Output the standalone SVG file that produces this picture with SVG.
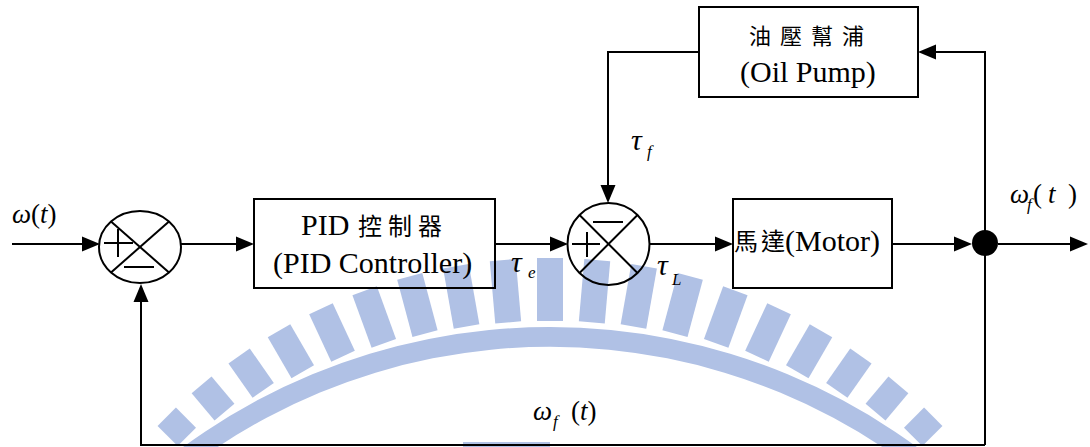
<svg xmlns="http://www.w3.org/2000/svg" width="1090" height="447" viewBox="0 0 1090 447" font-family="Liberation Serif">
<rect x="0" y="0" width="1090" height="447" fill="#fff"/>

<g id="watermark" fill="#b0c1e5">
  <polygon points="537,258 563,258 563,321 537,321"/>
  <polygon points="584.31,258.93 610.21,261.19 604.75,323.55 578.85,321.29"/>
  <polygon points="631.29,263.98 656.89,268.50 646.25,328.87 620.65,324.35"/>
  <polygon points="677.71,273.12 702.83,279.84 687.53,336.93 662.41,330.21"/>
  <polygon points="723.14,286.23 747.58,295.13 728.40,347.85 703.96,338.95"/>
  <polygon points="767.27,303.30 790.83,314.28 768.73,361.68 745.17,350.70"/>
  <polygon points="809.74,324.13 832.26,337.13 808.51,378.26 785.99,365.26"/>
  <polygon points="850.24,348.53 871.54,363.45 847.45,397.86 826.15,382.94"/>
  <polygon points="888.44,376.47 908.36,393.19 885.47,420.46 865.55,403.74"/>
  <polygon points="924.06,407.56 942.44,425.94 922.36,446.02 903.98,427.64"/>
  <polygon points="515.69,258.93 489.79,261.19 495.25,323.55 521.15,321.29"/>
  <polygon points="468.71,263.98 443.11,268.50 453.75,328.87 479.35,324.35"/>
  <polygon points="422.29,273.12 397.17,279.84 412.47,336.93 437.59,330.21"/>
  <polygon points="376.86,286.23 352.42,295.13 371.60,347.85 396.04,338.95"/>
  <polygon points="332.73,303.30 309.17,314.28 331.27,361.68 354.83,350.70"/>
  <polygon points="290.26,324.13 267.74,337.13 291.49,378.26 314.01,365.26"/>
  <polygon points="249.76,348.53 228.46,363.45 252.55,397.86 273.85,382.94"/>
  <polygon points="211.56,376.47 191.64,393.19 214.53,420.46 234.45,403.74"/>
  <polygon points="175.94,407.56 157.56,425.94 177.64,446.02 196.02,427.64"/>
  <path fill-rule="evenodd" d="M-71,948 A621,621 0 1 1 1171,948 A621,621 0 1 1 -71,948 Z M-51,948 A601,601 0 1 0 1151,948 A601,601 0 1 0 -51,948 Z"/>
  <rect x="463" y="442" width="87" height="5"/>
</g>

<g id="connectors" fill="none" stroke="#000" stroke-width="2">
  <line x1="12" y1="244" x2="83" y2="244"/>
  <line x1="181" y1="244" x2="237" y2="244"/>
  <line x1="495" y1="244" x2="551" y2="244"/>
  <line x1="649" y1="244" x2="716" y2="244"/>
  <line x1="892" y1="244" x2="955" y2="244"/>
  <line x1="998" y1="244" x2="1071" y2="244"/>
  <polyline points="699,52 608,52 608,186"/>
  <polyline points="985,445 985,52 935,52"/>
  <polyline points="985,445 141,445 141,301"/>
  <g fill="#000" stroke="none">
    <polygon points="82,236.5 100,244 82,251.5"/>
    <polygon points="236,236.5 254,244 236,251.5"/>
    <polygon points="550,236.5 568,244 550,251.5"/>
    <polygon points="715,236.5 733,244 715,251.5"/>
    <polygon points="954,236.5 972,244 954,251.5"/>
    <polygon points="1070,236.5 1088,244 1070,251.5"/>
    <polygon points="600.5,185 608,203 615.5,185"/>
    <polygon points="936,44.5 918,52 936,59.5"/>
    <polygon points="133.5,302 141,284 148.5,302"/>
  </g>
</g>

<g id="sum1" fill="none" stroke="#000" stroke-width="2">
  <ellipse cx="140" cy="247" rx="41" ry="36"/>
  <line x1="111" y1="221.5" x2="169" y2="272.5"/>
  <line x1="169" y1="221.5" x2="111" y2="272.5"/>
  <line x1="104" y1="243" x2="133" y2="243"/>
  <line x1="118" y1="229" x2="118" y2="257"/>
  <line x1="124" y1="267" x2="154" y2="267"/>
</g>

<g id="pid">
  <rect x="254" y="199" width="241" height="89" fill="none" stroke="#000" stroke-width="2"/>
  <text font-family="Liberation Serif" font-size="30" x="301" y="235">PID</text>
  <text font-family="Noto Sans CJK TC" x="358" y="235" font-size="24" letter-spacing="6">控制器</text>
  <text font-family="Liberation Serif" font-size="30" x="273" y="273">(PID Controller)</text>
</g>

<g id="sum2" fill="none" stroke="#000" stroke-width="2">
  <circle cx="608.5" cy="244" r="41"/>
  <line x1="579.5" y1="215" x2="637.5" y2="273"/>
  <line x1="637.5" y1="215" x2="579.5" y2="273"/>
  <line x1="572" y1="244" x2="600" y2="244"/>
  <line x1="587" y1="232" x2="587" y2="257"/>
  <line x1="593" y1="222" x2="623" y2="222"/>
</g>

<g id="motor">
  <rect x="733" y="199" width="159" height="89" fill="none" stroke="#000" stroke-width="2"/>
  <text font-family="Noto Sans CJK TC" x="734" y="250" font-size="24" letter-spacing="3">馬達</text>
  <text font-family="Liberation Serif" font-size="30" x="785" y="251">(Motor)</text>
</g>

<g id="junction">
  <circle cx="985" cy="243" r="13" fill="#000"/>
</g>

<g id="oilpump">
  <rect x="699" y="7" width="219" height="90" fill="none" stroke="#000" stroke-width="2"/>
  <text font-family="Noto Sans CJK TC" x="749" y="44" font-size="22" letter-spacing="9">油壓幫浦</text>
  <text font-family="Liberation Serif" font-size="30" x="740" y="82">(Oil Pump)</text>
</g>

<text font-family="Liberation Serif" font-style="italic" x="12" y="223" font-size="27">ω<tspan font-style="normal">(</tspan>t<tspan font-style="normal">)</tspan></text>
<text font-family="Liberation Serif" font-style="italic" x="511" y="272" font-size="30">τ</text>
<text font-family="Liberation Serif" font-style="italic" x="528" y="278" font-size="17">e</text>
<text font-family="Liberation Serif" font-style="italic" x="657" y="275" font-size="30">τ</text>
<text font-family="Liberation Serif" font-style="italic" x="672" y="285" font-size="17">L</text>
<text font-family="Liberation Serif" font-style="italic" x="631" y="150" font-size="30">τ</text>
<text font-family="Liberation Serif" font-style="italic" x="647" y="157" font-size="17">f</text>
<text font-family="Liberation Serif" font-style="italic" x="1010" y="203" font-size="27">ω</text>
<text font-family="Liberation Serif" font-style="italic" x="1027" y="210" font-size="17">f</text>
<text font-family="Liberation Serif" x="1033" y="203" font-size="27">(</text>
<text font-family="Liberation Serif" font-style="italic" x="1048" y="203" font-size="27">t</text>
<text font-family="Liberation Serif" x="1068" y="203" font-size="27">)</text>
<text font-family="Liberation Serif" font-style="italic" x="533" y="420" font-size="27">ω</text>
<text font-family="Liberation Serif" font-style="italic" x="553" y="427" font-size="17">f</text>
<text font-family="Liberation Serif" font-style="italic" x="571" y="420" font-size="27"><tspan font-style="normal">(</tspan>t<tspan font-style="normal">)</tspan></text>
</svg>
